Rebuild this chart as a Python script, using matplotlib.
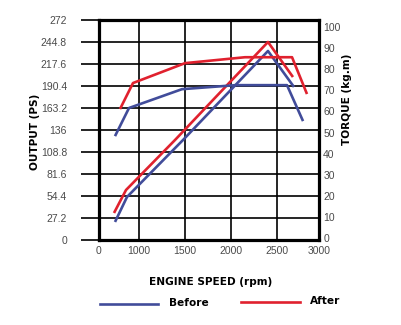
import numpy as np
import matplotlib
matplotlib.use("Agg")
import matplotlib.pyplot as plt

# ---- data ----
x_ticks = [0, 1000, 1500, 2000, 2500, 3000]
left_ticks = [0, 27.2, 54.4, 81.6, 108.8, 136, 163.2, 190.4, 217.6, 244.8, 272]
left_labels = ["0", "27.2", "54.4", "81.6", "108.8", "136", "163.2", "190.4", "217.6", "244.8", "272"]
right_ticks = [0, 10, 20, 30, 40, 50, 60, 70, 80, 90, 100]

# Output (PS)
power_before_rpm = [400, 700, 1478, 2402, 2702]
power_before = [22.3, 53.2, 123.6, 233.7, 189.2]
power_after_rpm = [375, 675, 1391, 2402, 2690]
power_after = [33.4, 61.8, 123.6, 244.8, 201.5]

# Torque (kg.m)
torque_before_rpm = [400, 750, 1467, 2050, 2619, 2810]
torque_before = [48.3, 61.6, 70.5, 72.4, 72.4, 55.4]
torque_after_rpm = [525, 850, 1500, 2152, 2679, 2857]
torque_after = [61.1, 73.4, 82.8, 85.6, 85.6, 68.2]

# ---- style ----
BLUE = "#414C9A"
RED = "#E0212E"
LW = 1.9

# piecewise axis used in the original drawing
_rpm = np.array([0, 1000, 1500, 2000, 2500, 3000], float)
_pos = np.array([0, 40, 86, 132, 178, 220], float)
def fwd(v):
    return np.interp(v, _rpm, _pos)
def inv(v):
    return np.interp(v, _pos, _rpm)

W, H = 401, 325
fig = plt.figure(figsize=(W / 100, H / 100), dpi=100)
ax = fig.add_axes([99 / W, (H - 240) / H, 220 / W, 220 / H])
ax.set_xscale("function", functions=(fwd, inv))
ax.set_xlim(0, 3000)
ax.set_ylim(0, 272)

tick_font = dict(family="Liberation Sans", size=7.5, color="#4a4a4a")

ax.set_xticks(x_ticks)
ax.set_xticklabels([str(t) for t in x_ticks], **tick_font)
ax.set_yticks(left_ticks)
ax.set_yticklabels(left_labels, **tick_font)
ax.tick_params(axis="x", length=0, pad=4)
ax.tick_params(axis="y", length=13, width=1.2, color="black", pad=10)
ax.xaxis.set_minor_locator(matplotlib.ticker.NullLocator())

ax.grid(True, color="black", linewidth=1.2)
ax.set_axisbelow(True)
for s in ax.spines.values():
    s.set_linewidth(2.3)
    s.set_color("black")

ax.plot(power_before_rpm, power_before, color=BLUE, lw=LW, solid_capstyle="butt", zorder=3)
ax.plot(power_after_rpm, power_after, color=RED, lw=LW, solid_capstyle="butt", zorder=3)

ax2 = ax.twinx()
ax2.set_ylim(-0.8, 103.2)
ax2.set_yticks(right_ticks)
ax2.set_yticklabels([str(t) for t in right_ticks], **tick_font)
ax2.tick_params(axis="y", length=0, pad=3)
for s in ax2.spines.values():
    s.set_visible(False)
ax2.plot(torque_before_rpm, torque_before, color=BLUE, lw=LW, solid_capstyle="butt", zorder=3)
ax2.plot(torque_after_rpm, torque_after, color=RED, lw=LW, solid_capstyle="butt", zorder=3)

lab_font = dict(family="DejaVu Sans", weight="bold", size=7.6, color="black")
fig.text(35 / W, 1 - 132 / H, "OUTPUT (PS)", rotation=90, ha="center", va="center", **lab_font)
fig.text(347 / W, 1 - 99 / H, "TORQUE (kg.m)", rotation=90, ha="center", va="center", **lab_font)
fig.text(211 / W, 1 - 282 / H, "ENGINE SPEED (rpm)", ha="center", va="center", **lab_font)

# legend
fig.add_artist(plt.Line2D([100 / W, 158 / W], [1 - 304 / H, 1 - 304 / H], color=BLUE, lw=LW))
fig.text(169 / W, 1 - 303 / H, "Before", ha="left", va="center", **lab_font)
fig.add_artist(plt.Line2D([241 / W, 300 / W], [1 - 302 / H, 1 - 302 / H], color=RED, lw=LW))
fig.text(310 / W, 1 - 301 / H, "After", ha="left", va="center", **lab_font)

fig.savefig("out.png", dpi=100)
